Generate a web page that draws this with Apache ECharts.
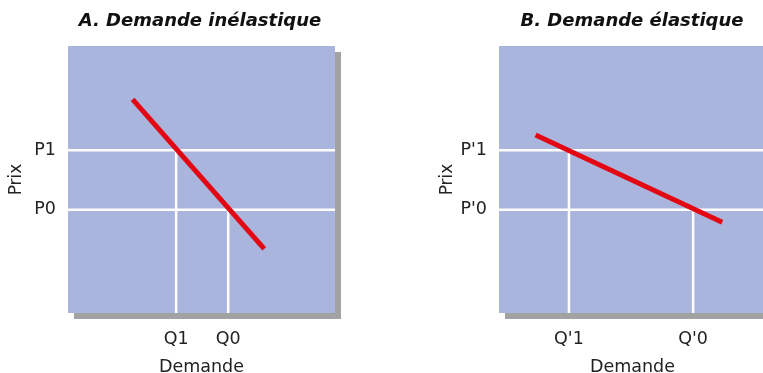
<!DOCTYPE html>
<html>
<head>
<meta charset="utf-8">
<script src="https://cdn.jsdelivr.net/npm/echarts@6/dist/echarts.min.js"></script>
<style>html,body{margin:0;padding:0;background:#fff}#c{width:763px;height:373px}</style>
</head>
<body>
<div id="c"></div>
<script>
// Panel titles
const titles = ['A. Demande inélastique', 'B. Demande élastique'];
const axisNameX = 'Demande';
const axisNameY = 'Prix';

// Panel A (inelastic)
const aQLabels = ['Q1', 'Q0'];
const aQValues = [40.5, 60.0];
const aPLabels = ['P1', 'P0'];
const aPValues = [61.0, 38.7];
const aDemand = [[24.2, 80.0], [73.5, 24.0]];

// Panel B (elastic)
const bQLabels = ["Q'1", "Q'0"];
const bQValues = [26.2, 72.7];
const bPLabels = ["P'1", "P'0"];
const bPValues = [61.0, 38.7];
const bDemand = [[13.7, 66.7], [83.6, 34.0]];

const FONT = 'DejaVu Sans';
const chart = echarts.init(document.getElementById('c'), null, {renderer: 'canvas'});

function xAxisFor(idx, vals, labels) {
  return {
    type: 'value', gridIndex: idx, min: 0, max: 100,
    axisLine: {show: false}, axisTick: {show: false}, splitLine: {show: false},
    name: axisNameX, nameLocation: 'middle', nameGap: 45,
    nameTextStyle: {fontFamily: FONT, fontSize: 17.5, color: '#222'},
    axisLabel: {
      customValues: vals, margin: 17,
      fontFamily: FONT, fontSize: 17.5, color: '#222',
      formatter: v => labels[vals.indexOf(v)] ?? ''
    }
  };
}
function yAxisFor(idx, vals, labels) {
  return {
    type: 'value', gridIndex: idx, min: 0, max: 100,
    axisLine: {show: false}, axisTick: {show: false}, splitLine: {show: false},
    name: axisNameY, nameLocation: 'middle', nameGap: 43, nameRotate: 90,
    nameTextStyle: {fontFamily: FONT, fontSize: 17, color: '#222'},
    axisLabel: {
      customValues: vals, margin: 12,
      fontFamily: FONT, fontSize: 17.5, color: '#222',
      formatter: v => labels[vals.indexOf(v)] ?? ''
    }
  };
}
function guideSeries(idx, qv, pv) {
  const out = [];
  for (let i = 0; i < qv.length; i++) {
    out.push({type: 'line', xAxisIndex: idx, yAxisIndex: idx, silent: true, symbol: 'none', z: 2,
      lineStyle: {color: '#ffffff', width: 2.5}, data: [[0, pv[i]], [100, pv[i]]]});
    out.push({type: 'line', xAxisIndex: idx, yAxisIndex: idx, silent: true, symbol: 'none', z: 2,
      lineStyle: {color: '#ffffff', width: 2.5}, data: [[qv[i], 0], [qv[i], pv[i]]]});
  }
  return out;
}
function demandSeries(idx, d) {
  return {type: 'line', xAxisIndex: idx, yAxisIndex: idx, silent: true, symbol: 'none', z: 5,
    lineStyle: {color: '#e30613', width: 5, cap: 'butt'}, data: d};
}
const gridStyle = {show: true, backgroundColor: '#a9b5dd', borderWidth: 0,
  outerBoundsMode: 'none', containLabel: false,
  shadowColor: '#a2a2a2', shadowBlur: 0, shadowOffsetX: 6, shadowOffsetY: 6};

chart.setOption({
  animation: false,
  title: [
    {text: titles[0], left: 200, top: 12, textAlign: 'center', padding: 0,
     textStyle: {fontFamily: FONT, fontSize: 18, fontWeight: 'bold', fontStyle: 'italic', color: '#111'}},
    {text: titles[1], left: 632, top: 12, textAlign: 'center', padding: 0,
     textStyle: {fontFamily: FONT, fontSize: 18, fontWeight: 'bold', fontStyle: 'italic', color: '#111'}}
  ],
  grid: [
    Object.assign({left: 68, top: 46, width: 267, height: 267}, gridStyle),
    Object.assign({left: 499, top: 46, width: 267, height: 267}, gridStyle)
  ],
  xAxis: [xAxisFor(0, aQValues, aQLabels), xAxisFor(1, bQValues, bQLabels)],
  yAxis: [yAxisFor(0, aPValues, aPLabels), yAxisFor(1, bPValues, bPLabels)],
  series: [
    ...guideSeries(0, aQValues, aPValues),
    demandSeries(0, aDemand),
    ...guideSeries(1, bQValues, bPValues),
    demandSeries(1, bDemand)
  ]
});
</script>
</body>
</html>
